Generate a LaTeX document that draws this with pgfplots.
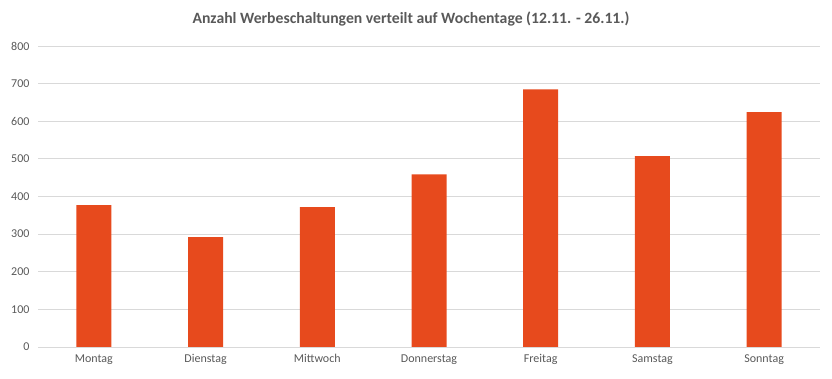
\documentclass[border=0pt]{standalone}
\usepackage{pgfplots}
\pgfplotsset{compat=1.18}
\usepackage{fontspec}
\setmainfont{Carlito}
\definecolor{barc}{RGB}{231,74,29}
\definecolor{gridc}{RGB}{217,217,217}
\definecolor{txt}{RGB}{89,89,89}
\begin{document}
\begin{tikzpicture}
\begin{axis}[
  scale only axis,
  width=782pt, height=301pt,
  ymin=0, ymax=800, ytick={0,100,...,800},
  xmin=-0.5, xmax=6.5,
  xtick={0,...,6},
  xticklabels={Montag,Dienstag,Mittwoch,Donnerstag,Freitag,Samstag,Sonntag},
  axis line style={draw=none},
  ymajorgrids, grid style={gridc, line width=0.8pt},
  major tick length=0pt,
  tick label style={font=\fontsize{12}{14}\selectfont, text=txt},
  /pgf/number format/assume math mode=true,
  yticklabel style={xshift=-5pt},
  xticklabel style={yshift=-4pt},
  ybar, bar width=35pt,
  clip=false,
]
\addplot[fill=barc, draw=none] coordinates {(0,377) (1,292) (2,372) (3,459) (4,685) (5,507) (6,624)};
\end{axis}
\node[font=\fontsize{15.7}{18}\selectfont\bfseries, text=txt] at ([shift={(-18pt,27pt)}]current axis.north) {Anzahl Werbeschaltungen verteilt auf Wochentage (12.11. - 26.11.)};
\pgfresetboundingbox
\path[use as bounding box] ([shift={(-38pt,-32pt)}]current axis.south west) rectangle ([shift={(12pt,46pt)}]current axis.north east);
\end{tikzpicture}
\end{document}
